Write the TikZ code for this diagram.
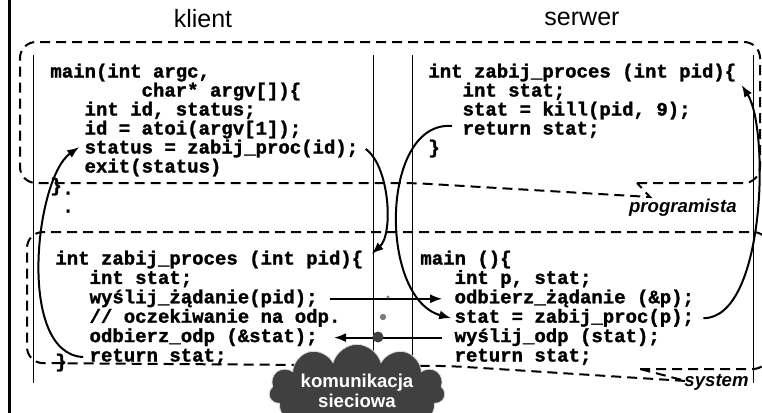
\documentclass[tikz,border=0pt]{standalone}
\usepackage{fontspec}
\setmainfont{Liberation Sans}
\setsansfont{Liberation Sans}
\setmonofont[BoldFeatures={FakeBold=1.5}]{Liberation Mono}
\usepackage{tikz}
\usetikzlibrary{arrows.meta,positioning,shapes.symbols}
\definecolor{cloudgray}{RGB}{64, 64, 64}
\definecolor{dotgray}{RGB}{125, 125, 125}
\tikzstyle{code} = [anchor=west, inner sep=0pt, text height=6.8pt, text depth=2.3pt, font=\ttfamily\bfseries\fontsize{9.5}{9.5}\selectfont]
\tikzstyle{title} = [font=\fontsize{12.5}{14}\selectfont]
\tikzstyle{role} = [anchor=east, inner sep=0pt, font=\sffamily\bfseries\itshape\fontsize{9.3}{10}\selectfont]
\tikzstyle{column} = [draw, line width=0.5pt]
\tikzstyle{callout} = [draw, line width=1pt, dash pattern=on 5pt off 3pt]
\tikzstyle{tedge}  = [draw, line width=1pt, >={Latex[length=6pt,width=4.5pt]}, ->]
\tikzstyle{packet} = [circle, inner sep=0pt, fill=dotgray]
\tikzstyle{net} = [cloud, cloud puffs=11, aspect=2.6, fill=cloudgray, draw=white!85!black, text=white, align=center, font=\sffamily\bfseries\fontsize{9.3}{8}\selectfont, minimum width=88pt, minimum height=23pt, inner sep=0pt]

\begin{document}
\begin{tikzpicture}[x=0.5pt, y=-0.5pt]
\useasboundingbox (0,0) rectangle (762,413);
\clip (0,0) rectangle (762,413);

% frame =============================

\draw[line width=1.5pt] (9,0) -- (9,413);
\node[title] (klient) at (203,19) {klient};
\node[title] (serwer) at (582,19) {serwer};

% programista / system
\draw[callout] (637,183) [rounded corners=8pt] -- (760,183) -- (760,42) -- (20,42) -- (20,183) -- (413,183) [sharp corners] -- (650,197) -- cycle;
\draw[callout] (640,369) [rounded corners=8pt] -- (769,369) -- (769,232) -- (27,232) -- (27,363) -- (450,366) [sharp corners] -- (686,381) -- cycle;
\node[role] (prog) at (737,208) {programista};
\node[role] (sys) at (749,382) {system};

% columns
\draw[column] (33,55) -- (33,383);
\draw[column] (373,55) -- (373,383);
\draw[column] (412,55) -- (412,383);
\draw[column] (753,55) -- (753,383);

% client, user code
\node[code] (kmain) at (50,73) {main(int argc,};
\node[code, below right=0pt and 45.6pt of kmain.south west] (kargv) {char* argv[])\{};
\node[code, below right=0pt and -28.5pt of kargv.south west] (kids) {int id, status;};
\node[code, below right=0pt and 0pt of kids.south west] (katoi) {id = atoi(argv[1]);};
\node[code, below right=0pt and 0pt of katoi.south west] (kstatus) {status = zabij\_proc(id);};
\node[code, below right=0pt and 0pt of kstatus.south west] (kexit) {exit(status)};
\node[code, below right=0pt and -17.1pt of kexit.south west] (kend) {\}};
\node[code] (kdot1) at (62,190) {.};
\node[code] (kdot2) at (62,208) {.};

% server, user code
\node[code] (sproc) at (428,73) {int zabij\_proces (int pid)\{};
\node[code, below right=0pt and 17.1pt of sproc.south west] (sstat) {int stat;};
\node[code, below right=0pt and 0pt of sstat.south west] (skill) {stat = kill(pid, 9);};
\node[code, below right=0pt and 0pt of skill.south west] (sret) {return stat;};
\node[code, below right=0pt and -17.1pt of sret.south west] (send) {\}};

% client, system stub
\node[code] (kproc) at (55,260) {int zabij\_proces (int pid)\{};
\node[code, below right=0.2pt and 17.1pt of kproc.south west] (kstat) {int stat;};
\node[code, below right=0.2pt and 0pt of kstat.south west] (kreq) {wyślij\_żądanie(pid);};
\node[code, below right=0.2pt and 0pt of kreq.south west] (kwait) {// oczekiwanie na odp.};
\node[code, below right=0.2pt and 0pt of kwait.south west] (krecv) {odbierz\_odp (\&stat);};
\node[code, below right=0.2pt and 0pt of krecv.south west] (kret) {return stat;};
\node[code] (kend2) at (55,363) {\}};

% server, system stub
\node[code] (smain) at (420,260) {main ()\{};
\node[code, below right=0.2pt and 17.1pt of smain.south west] (svars) {int p, stat;};
\node[code, below right=0.2pt and 0pt of svars.south west] (srecv) {odbierz\_żądanie (\&p);};
\node[code, below right=0.2pt and 0pt of srecv.south west] (scall) {stat = zabij\_proc(p);};
\node[code, below right=0.2pt and 0pt of scall.south west] (ssend) {wyślij\_odp (stat);};
\node[code, below right=0.2pt and 0pt of ssend.south west] (sret2) {return stat;};

% network
\node[net] (siec) at (357,391) {komunikacja\\sieciowa};

%edges
\path[tedge] ([xshift=3.5pt]kstatus.east) .. controls +(24,17) and +(22,-20) .. ([xshift=4pt,yshift=3pt]kproc.east);
\path[tedge] ([xshift=6pt]kreq.east) -- ([xshift=-6pt]srecv.west);
\path[tedge] ([xshift=-5pt,yshift=2pt]sret.west) .. controls +(-72,-6) and +(-73,-20) .. ([xshift=-1.5pt]scall.west);
\path[tedge] ([xshift=4.5pt]scall.east) .. controls +(62,0) and +(28,44) .. ([xshift=2.5pt,yshift=-6pt]sproc.east);
\path[tedge] ([xshift=-6pt]ssend.west) -- ([xshift=8pt]krecv.east);
\path[tedge] ([xshift=-3pt]kret.west) .. controls +(-67,-3) and +(-44,31) .. ([xshift=-2.5pt,yshift=1pt]kstatus.west);

% packets
\node[packet, minimum size=1.6pt] (pk1) at (388,297) {};
\node[packet, minimum size=3.2pt] (pk2) at (383,317) {};
\node[packet, minimum size=5.5pt, fill=cloudgray] (pk3) at (378,337) {};

\end{tikzpicture}
\end{document}
